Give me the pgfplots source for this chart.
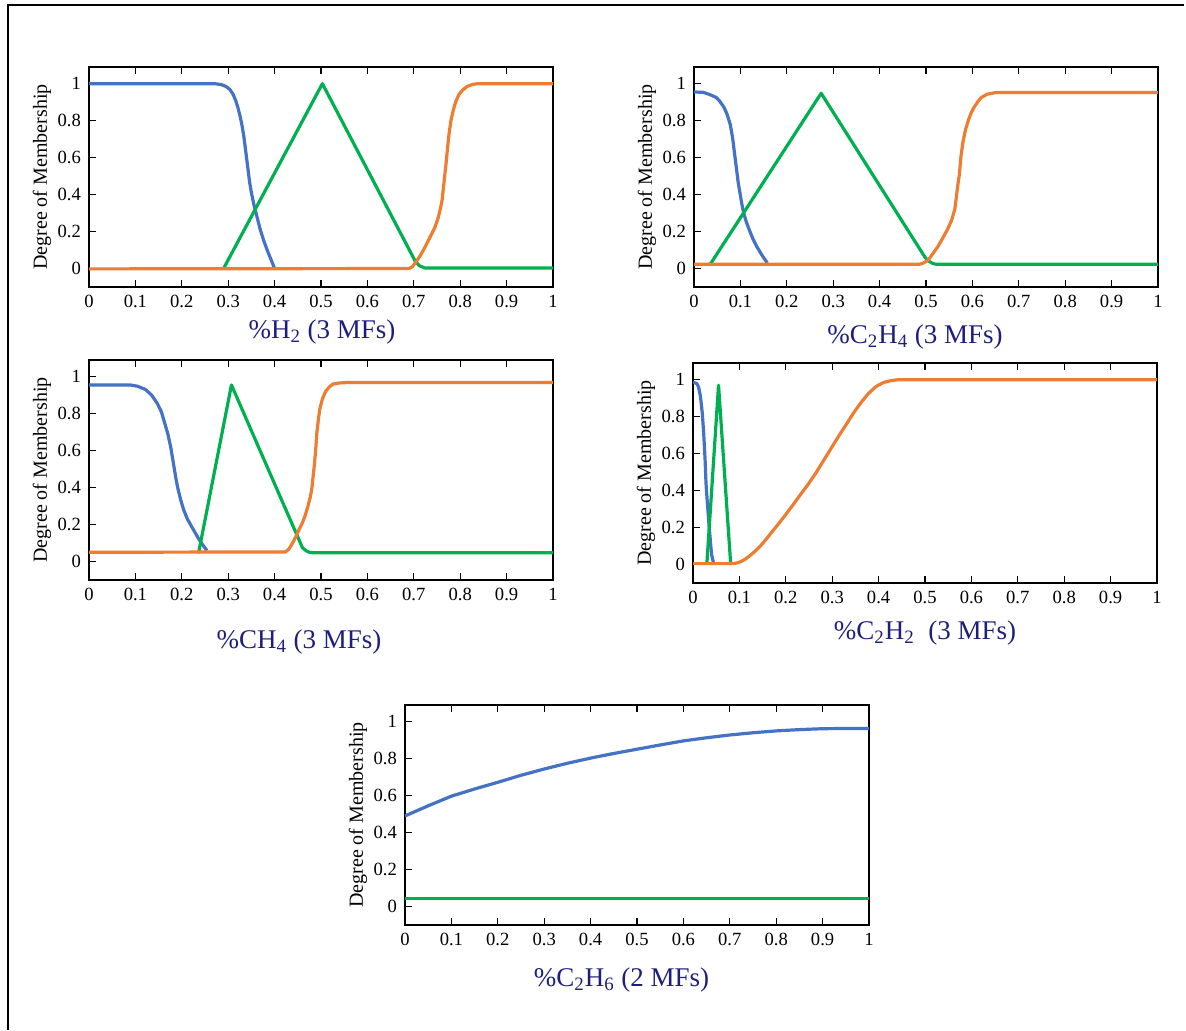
\documentclass[border=0pt]{standalone}
\usepackage{pgfplots}
\pgfplotsset{compat=1.18}
\usepackage{fontspec}
\setmainfont{Liberation Serif}

\definecolor{mfblue}{RGB}{68,114,196}
\definecolor{mforange}{RGB}{237,125,49}
\definecolor{mfgreen}{RGB}{0,176,80}
\definecolor{ttlnavy}{RGB}{30,30,125}

\pgfplotsset{
  mf/.style={
    scale only axis,
    width=232pt, height=110pt,
    anchor=south west,
    xmin=0, xmax=1, ymin=-0.1, ymax=1.09,
    xtick={0,0.1,...,1.01},
    ytick={0,0.2,0.4,0.6,0.8,1},
    xticklabels={0,0.1,0.2,0.3,0.4,0.5,0.6,0.7,0.8,0.9,1},
    yticklabels={0,0.2,0.4,0.6,0.8,1},
    tick align=inside,
    xtick pos=both,
    ytick pos=left,
    major tick length=3.5pt,
    axis line style={line width=0.7pt},
    tick style={line width=0.6pt, black},
    /pgf/number format/assume math mode=true,
    tick label style={font=\fontsize{9.3}{10}\selectfont},
    xticklabel style={yshift=-0.5pt},
    yticklabel style={xshift=-0.5pt},
    ylabel={Degree of Membership},
    every axis y label/.style={at={([xshift=-23.5pt]axis description cs:0,0.5)},
      rotate=90, anchor=center, font=\fontsize{10}{12}\selectfont},
    every axis x label/.style={at={(axis description cs:0.5,0)}, anchor=center,
      font=\fontsize{13.5}{15}\selectfont, text=ttlnavy},
    every axis plot/.append style={line width=1.6pt, line join=round},
  },
}

\begin{document}
\begin{tikzpicture}
\path[use as bounding box] (0,0) rectangle (593pt,-515pt);
\draw[line width=1pt] (3.5pt,-2.5pt) -- (592pt,-2.5pt);
\draw[line width=1pt] (4pt,-2.5pt) -- (4pt,-515pt);

% H2
\begin{axis}[mf, at={(44.5pt,-143.5pt)},
  xlabel={\%H\textsubscript{2} (3 MFs)},
  x label style={yshift=-22.5pt, xshift=0.5pt}]
\addplot[mfblue] coordinates {(0,1) (0.27,1) (0.285,0.995) (0.295,0.985) (0.303,0.97) (0.31,0.945) (0.316,0.91) (0.321,0.87) (0.326,0.82) (0.33,0.77) (0.334,0.71) (0.337,0.65) (0.34,0.59) (0.343,0.53) (0.346,0.47) (0.35,0.41) (0.355,0.35) (0.361,0.29) (0.368,0.22) (0.376,0.155) (0.384,0.1) (0.392,0.05) (0.40,0.0)};
\addplot[mfgreen] coordinates {(0.29,0) (0.503,1) (0.703,0.04) (0.712,0.015) (0.724,0.003) (1,0.003)};
\addplot[mforange] coordinates {(0,-0.002) (0.69,0.0) (0.697,0.01) (0.703,0.03) (0.714,0.07) (0.724,0.115) (0.737,0.18) (0.745,0.22) (0.752,0.27) (0.757,0.32) (0.761,0.37) (0.764,0.44) (0.767,0.51) (0.770,0.58) (0.773,0.66) (0.776,0.73) (0.780,0.8) (0.785,0.855) (0.79,0.9) (0.797,0.94) (0.805,0.965) (0.815,0.985) (0.827,0.996) (0.839,1.0) (1,1.0)};
\end{axis}

% C2H4
\begin{axis}[mf, at={(347pt,-143.5pt)},
  xlabel={\%C\textsubscript{2}H\textsubscript{4} (3 MFs)},
  x label style={yshift=-25pt, xshift=-5.5pt}]
\addplot[mfblue] coordinates {(0,0.955) (0.02,0.953) (0.035,0.94) (0.048,0.925) (0.055,0.907) (0.065,0.87) (0.071,0.836) (0.078,0.78) (0.083,0.71) (0.087,0.63) (0.091,0.55) (0.095,0.47) (0.099,0.41) (0.103,0.35) (0.107,0.30) (0.113,0.25) (0.119,0.21) (0.127,0.16) (0.135,0.12) (0.147,0.07) (0.158,0.03)};
\addplot[mfgreen] coordinates {(0.03,0.023) (0.035,0.023) (0.274,0.948) (0.498,0.06) (0.506,0.04) (0.514,0.028) (0.522,0.023) (1,0.023)};
\addplot[mforange] coordinates {(0,0.023) (0.485,0.023) (0.492,0.027) (0.5,0.038) (0.506,0.05) (0.516,0.085) (0.526,0.12) (0.536,0.165) (0.546,0.21) (0.555,0.26) (0.562,0.32) (0.566,0.4) (0.569,0.46) (0.572,0.51) (0.575,0.6) (0.579,0.675) (0.585,0.75) (0.591,0.8) (0.597,0.84) (0.603,0.87) (0.611,0.9) (0.619,0.925) (0.632,0.943) (0.651,0.952) (1,0.952)};
\end{axis}

% CH4
\begin{axis}[mf, at={(44.5pt,-290pt)},
  xlabel={\%CH\textsubscript{4} (3 MFs)},
  x label style={yshift=-31pt, xshift=-11pt}]
\addplot[mfblue] coordinates {(0,0.955) (0.089,0.955) (0.105,0.948) (0.122,0.93) (0.135,0.9) (0.147,0.856) (0.156,0.81) (0.163,0.75) (0.17,0.69) (0.176,0.62) (0.18,0.56) (0.184,0.50) (0.188,0.44) (0.192,0.39) (0.198,0.33) (0.204,0.28) (0.212,0.23) (0.221,0.19) (0.229,0.155) (0.237,0.12) (0.245,0.09) (0.254,0.06)};
\addplot[mfgreen] coordinates {(0.236,0.045) (0.307,0.955) (0.46,0.075) (0.468,0.058) (0.475,0.05) (0.485,0.047) (1,0.048)};
\addplot[mforange] coordinates {(0,0.05) (0.423,0.052) (0.43,0.065) (0.435,0.084) (0.442,0.115) (0.448,0.147) (0.454,0.18) (0.46,0.21) (0.466,0.25) (0.472,0.30) (0.477,0.35) (0.48,0.39) (0.483,0.46) (0.486,0.53) (0.489,0.62) (0.491,0.695) (0.494,0.76) (0.497,0.82) (0.503,0.88) (0.51,0.92) (0.518,0.945) (0.526,0.96) (0.54,0.966) (0.555,0.968) (1,0.968)};
\end{axis}

% C2H2
\begin{axis}[mf, at={(346.5pt,-291.5pt)},
  xlabel={\%C\textsubscript{2}H\textsubscript{2}\ \ (3 MFs)},
  x label style={yshift=-25pt}]
\addplot[mfblue] coordinates {(0,0.985) (0.008,0.98) (0.012,0.96) (0.016,0.91) (0.02,0.82) (0.023,0.71) (0.026,0.57) (0.028,0.44) (0.031,0.33) (0.035,0.2) (0.038,0.11) (0.040,0.055) (0.044,0.01)};
\addplot[mfgreen] coordinates {(0.03,0.01) (0.055,0.97) (0.081,0.01)};
\addplot[mforange] coordinates {(0,0.005) (0.08,0.005) (0.089,0.006) (0.097,0.01) (0.105,0.018) (0.113,0.03) (0.121,0.045) (0.133,0.07) (0.145,0.10) (0.157,0.135) (0.169,0.173) (0.185,0.222) (0.201,0.274) (0.217,0.328) (0.233,0.383) (0.25,0.44) (0.266,0.50) (0.282,0.565) (0.298,0.63) (0.314,0.695) (0.33,0.757) (0.346,0.82) (0.362,0.876) (0.378,0.925) (0.395,0.964) (0.411,0.985) (0.427,0.995) (0.443,1.0) (1,1.0)};
\end{axis}

% C2H6
\begin{axis}[mf, at={(202.5pt,-462.5pt)},
  xlabel={\%C\textsubscript{2}H\textsubscript{6} (2 MFs)},
  x label style={yshift=-27.5pt, xshift=-7.75pt}]
\addplot[mfblue] coordinates {(0,0.49) (0.05,0.545) (0.1,0.597) (0.15,0.636) (0.2,0.672) (0.25,0.71) (0.3,0.744) (0.35,0.775) (0.4,0.803) (0.45,0.828) (0.5,0.851) (0.55,0.874) (0.6,0.896) (0.65,0.913) (0.7,0.928) (0.75,0.94) (0.8,0.95) (0.85,0.957) (0.9,0.962) (0.95,0.963) (1,0.963)};
\addplot[mfgreen] coordinates {(0,0.045) (1,0.045)};
\end{axis}
\end{tikzpicture}
\end{document}
